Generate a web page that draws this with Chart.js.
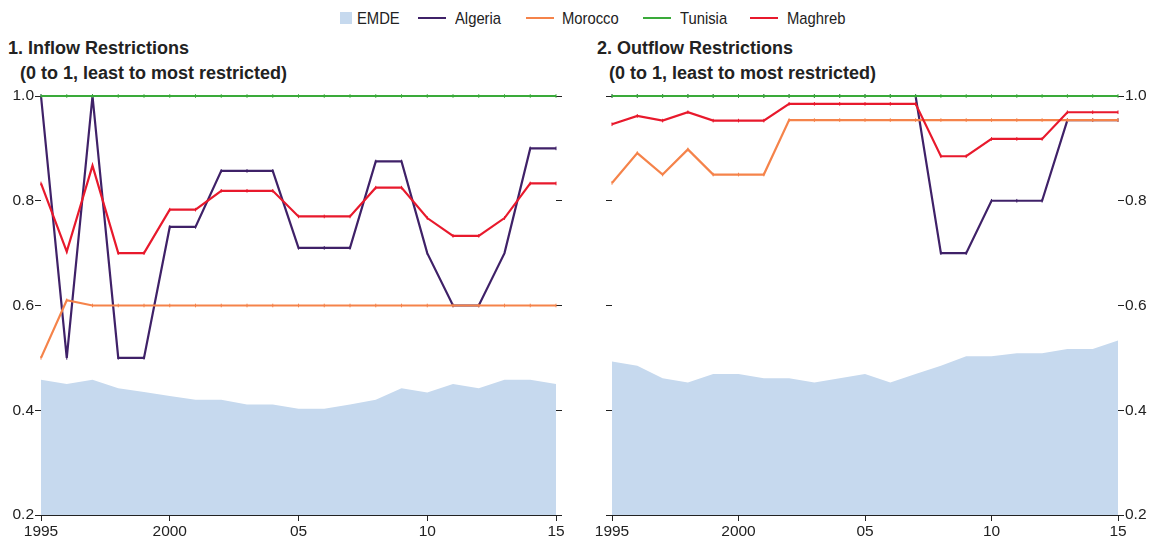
<!DOCTYPE html>
<html>
<head>
<meta charset="utf-8">
<script src="https://cdn.jsdelivr.net/npm/chart.js@4"></script>
<style>
  body { margin: 0; width: 1157px; height: 541px; position: relative; background: #fff; overflow: hidden;
         font-family: "Liberation Sans", Arial, sans-serif; color: #222; }
  .lg { position: absolute; top: 9px; height: 19px; }
  .lg.box { top: 12px; width: 12px; height: 12px; background: #c6d9ee; }
  .lg.ln { top: 17px; width: 28px; height: 2px; }
  .lg.txt { font-size: 17px; line-height: 19px; transform: scaleX(0.87); transform-origin: left center; white-space: nowrap; }
  .title { position: absolute; font-weight: bold; font-size: 18px; line-height: 24.5px; white-space: nowrap; }
  canvas { position: absolute; }
</style>
</head>
<body>
<span class="lg box" style="left:340px"></span><span class="lg txt" style="left:357px">EMDE</span>
<span class="lg ln" style="left:418px; background:#3f2168"></span><span class="lg txt" style="left:455px">Algeria</span>
<span class="lg ln" style="left:526px; background:#f5834a"></span><span class="lg txt" style="left:562px">Morocco</span>
<span class="lg ln" style="left:643px; background:#3aaa3a"></span><span class="lg txt" style="left:680px">Tunisia</span>
<span class="lg ln" style="left:750px; background:#e8192c"></span><span class="lg txt" style="left:787px">Maghreb</span>

<div class="title" style="left:8px; top:36px;">1. Inflow Restrictions<br><span style="padding-left:12px">(0 to 1, least to most restricted)</span></div>
<div class="title" style="left:597px; top:36px;">2. Outflow Restrictions<br><span style="padding-left:12px">(0 to 1, least to most restricted)</span></div>
<canvas id="inflowChart" style="left:0; top:85px;" width="580" height="456"></canvas>
<canvas id="outflowChart" style="left:580px; top:85px;" width="577" height="456"></canvas>
<script>
const years = [1995, 1996, 1997, 1998, 1999, 2000, 2001, 2002, 2003, 2004, 2005,
               2006, 2007, 2008, 2009, 2010, 2011, 2012, 2013, 2014, 2015];

// Inflow restrictions
const inflowEMDE    = [0.458, 0.450, 0.458, 0.442, 0.435, 0.427, 0.420, 0.420, 0.411, 0.411, 0.403,
                       0.403, 0.411, 0.420, 0.442, 0.434, 0.450, 0.442, 0.458, 0.458, 0.450];
const inflowAlgeria = [1.0, 0.5, 1.0, 0.5, 0.5, 0.75, 0.75, 0.857, 0.857, 0.857, 0.71,
                       0.71, 0.71, 0.875, 0.875, 0.70, 0.6, 0.6, 0.70, 0.9, 0.9];
const inflowMorocco = [0.5, 0.61, 0.6, 0.6, 0.6, 0.6, 0.6, 0.6, 0.6, 0.6, 0.6,
                       0.6, 0.6, 0.6, 0.6, 0.6, 0.6, 0.6, 0.6, 0.6, 0.6];
const inflowTunisia = [1, 1, 1, 1, 1, 1, 1, 1, 1, 1, 1,
                       1, 1, 1, 1, 1, 1, 1, 1, 1, 1];
const inflowMaghreb = [0.833, 0.703, 0.867, 0.70, 0.70, 0.783, 0.783, 0.819, 0.819, 0.819, 0.77,
                       0.77, 0.77, 0.825, 0.825, 0.767, 0.733, 0.733, 0.767, 0.833, 0.833];

// Outflow restrictions
const outflowEMDE    = [0.493, 0.485, 0.461, 0.453, 0.469, 0.469, 0.461, 0.461, 0.453, 0.461, 0.469,
                        0.453, 0.469, 0.485, 0.503, 0.503, 0.509, 0.509, 0.517, 0.517, 0.533];
const outflowAlgeria = [1, 1, 1, 1, 1, 1, 1, 1, 1, 1, 1,
                        1, 1, 0.7, 0.7, 0.8, 0.8, 0.8, 0.954, 0.954, 0.954];
const outflowMorocco = [0.834, 0.891, 0.85, 0.898, 0.85, 0.85, 0.85, 0.954, 0.954, 0.954, 0.954,
                        0.954, 0.954, 0.954, 0.954, 0.954, 0.954, 0.954, 0.954, 0.954, 0.954];
const outflowTunisia = [1, 1, 1, 1, 1, 1, 1, 1, 1, 1, 1,
                        1, 1, 1, 1, 1, 1, 1, 1, 1, 1];
const outflowMaghreb = [0.946, 0.962, 0.953, 0.969, 0.953, 0.953, 0.953, 0.985, 0.985, 0.985, 0.985,
                        0.985, 0.985, 0.885, 0.885, 0.918, 0.918, 0.918, 0.969, 0.969, 0.969];

const yTicks = [0.2, 0.4, 0.6, 0.8, 1.0];
const xTickLabels = { 1995: '1995', 2000: '2000', 2005: '05', 2010: '10', 2015: '15' };

const FONT = "'Liberation Sans', Arial, sans-serif";

function pts(values) {
  return values.map((v, i) => ({ x: years[i], y: v }));
}

function lineSet(label, values, color, order) {
  return {
    label: label, data: pts(values), borderColor: color, backgroundColor: color,
    borderWidth: 2.2, tension: 0, fill: false, order: order, yAxisID: 'y', clip: false,
    pointStyle: 'line', rotation: 90, pointRadius: 1.8, pointBorderWidth: 1, pointBorderColor: color,
    pointHoverRadius: 0
  };
}

function yAxis(position, showLabels, width) {
  return {
    type: 'linear', position: position, min: 0.2, max: 1.0,
    afterBuildTicks: s => { s.ticks = yTicks.map(v => ({ value: v })); },
    afterFit: s => { s.width = width; },
    border: { display: false },
    grid: { drawOnChartArea: false, drawTicks: true, tickLength: 6, color: '#222', lineWidth: 1 },
    ticks: {
      display: showLabels, padding: 1, color: '#222', font: { family: FONT, size: 15.5 },
      callback: v => v.toFixed(1)
    }
  };
}

function makeChart(id, emde, alg, mor, tun, mag, leftW, rightW, leftLabels) {
  new Chart(document.getElementById(id).getContext('2d'), {
    type: 'line',
    data: {
      datasets: [
        { label: 'EMDE', data: pts(emde), fill: 'start', backgroundColor: '#c6d9ee',
          borderWidth: 0, pointRadius: 0, tension: 0, order: 5, yAxisID: 'y' },
        lineSet('Algeria', alg, '#3f2168', 4),
        lineSet('Morocco', mor, '#f5834a', 3),
        lineSet('Maghreb', mag, '#e8192c', 2),
        lineSet('Tunisia', tun, '#3aaa3a', 1)
      ]
    },
    options: {
      responsive: false, animation: false,
      layout: { padding: { top: 11, left: 0, right: 0, bottom: 0 } },
      plugins: { legend: { display: false }, tooltip: { enabled: false } },
      scales: {
        x: {
          type: 'linear', min: 1995, max: 2015,
          afterBuildTicks: s => { s.ticks = Object.keys(xTickLabels).map(v => ({ value: +v })); },
          afterFit: s => { s.height = 26; },
          border: { display: true, color: '#222', width: 1 },
          grid: { drawOnChartArea: false, drawTicks: true, tickLength: 6, color: '#222' },
          ticks: { maxRotation: 0, autoSkip: false, padding: 1, color: '#222',
                   font: { family: FONT, size: 15.5 }, callback: v => xTickLabels[v] }
        },
        y: yAxis('left', leftLabels, leftW),
        y2: yAxis('right', !leftLabels, rightW)
      }
    }
  });
}

makeChart('inflowChart', inflowEMDE, inflowAlgeria, inflowMorocco, inflowTunisia, inflowMaghreb, 41, 24, true);
makeChart('outflowChart', outflowEMDE, outflowAlgeria, outflowMorocco, outflowTunisia, outflowMaghreb, 32, 39, false);
</script>
</body>
</html>
